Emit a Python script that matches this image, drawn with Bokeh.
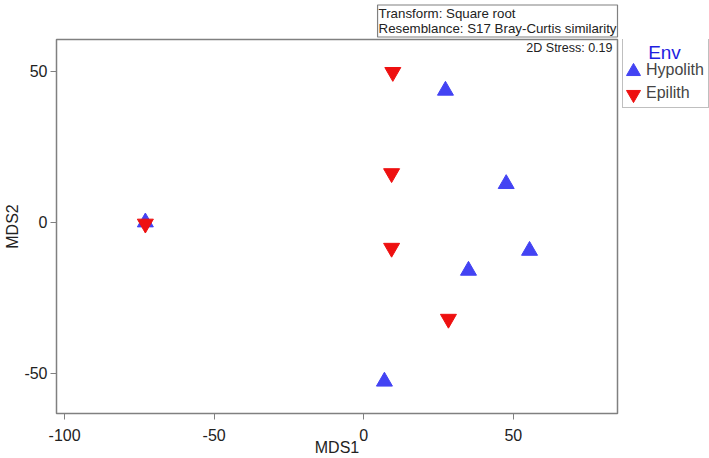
from bokeh.plotting import figure
from bokeh.layouts import row
from bokeh.models import (Range1d, FixedTicker, Label, Legend, LegendItem, Title,
                          CustomJSTickFormatter, ColumnDataSource)
from bokeh.embed import file_html
from bokeh.resources import INLINE

# Data (MDS coordinates)
hyp_x = [-73.0, 27.3, 47.6, 55.4, 35.0, 6.9]
hyp_y = [0.0, 43.6, 12.7, -9.4, -16.0, -52.7]
epi_x = [-73.0, 9.7, 9.3, 9.3, 28.3]
epi_y = [-0.5, 49.7, 16.2, -8.5, -32.0]
x_ticks = [-100, -50, 0, 50]
y_ticks = [-50, 0, 50]
legend_title = "Env"
group_names = ["Hypolith", "Epilith"]
info_lines = ["Transform: Square root", "Resemblance: S17 Bray-Curtis similarity"]
stress_text = "2D Stress: 0.19"

FONT = "Liberation Sans"
BLUE = "#4343F3"
RED = "#EE1010"
GRAY = "#808080"
TXT = "#222222"

X0, X1 = -102.7, 84.8
Y0, Y1 = -63.3, 60.5
FL, FR, FT, FB = 56, 617, 39, 413
MAIN_W = FR + 2
LEG_W = 709 - MAIN_W
sx = (FR - FL) / (X1 - X0)
sy = (FB - FT) / (Y1 - Y0)

def dx(px):
    return X0 + (px - FL) / sx

def dy(py):
    return Y1 - (py - FT) / sy

p = figure(width=MAIN_W, height=458, output_backend="svg", toolbar_location=None,
           x_range=Range1d(X0, X1), y_range=Range1d(Y0, Y1),
           min_border_left=FL, min_border_right=MAIN_W - FR,
           min_border_top=FT, min_border_bottom=458 - FB)
p.xgrid.visible = False
p.ygrid.visible = False
p.outline_line_color = GRAY
p.outline_line_width = 1.5
p.background_fill_color = "white"

fmt = CustomJSTickFormatter(code="return String(tick);")
for ax, ticks, label in ((p.xaxis[0], x_ticks, "MDS1"), (p.yaxis[0], y_ticks, "MDS2")):
    ax.ticker = FixedTicker(ticks=ticks)
    ax.formatter = fmt
    ax.minor_tick_line_color = None
    ax.axis_line_color = None
    ax.major_tick_line_color = GRAY
    ax.major_tick_in = 0
    ax.major_tick_out = 6
    ax.major_label_text_font = FONT
    ax.major_label_text_font_size = "16px"
    ax.major_label_text_color = TXT
    ax.axis_label = label
    ax.axis_label_text_font = FONT
    ax.axis_label_text_font_size = "16px"
    ax.axis_label_text_font_style = "normal"
    ax.axis_label_text_color = TXT
p.xaxis.major_label_standoff = 9
p.xaxis.axis_label_standoff = -5
p.yaxis.major_label_standoff = 3
p.yaxis.axis_label_standoff = 0

r_h = p.scatter(hyp_x, hyp_y, marker="triangle", size=16, fill_color=BLUE, line_color=BLUE)
r_e = p.scatter(epi_x, epi_y, marker="inverted_triangle", size=16, fill_color=RED, line_color=RED)

info = Title(text="\n".join(info_lines), align="right",
             text_font=FONT, text_font_size="13.3px", text_color=TXT,
             text_font_style="normal", padding=1, standoff=5,
             border_line_color=GRAY, border_line_width=1.2,
             background_fill_color="white")
p.add_layout(info, "above")

stress = Label(x=dx(612), y=dy(47), text=stress_text,
               text_font=FONT, text_font_size="12.5px", text_color=TXT,
               text_align="right", text_baseline="middle")
p.add_layout(stress)

# Legend panel (separate small figure at the right; its frame aligns with the main frame)
lf = figure(width=LEG_W, height=458, output_backend="svg", toolbar_location=None,
            x_range=Range1d(0, 1), y_range=Range1d(0, 1), min_border=0)
lf.axis.visible = False
lf.grid.visible = False
lf.outline_line_color = None

def lx(px):
    return (px - MAIN_W) / LEG_W

def ly(py):
    return (FB - py) / (FB - FT)

# legend key symbols, drawn at the legend rows
key_h = ColumnDataSource(data=dict(x=[lx(633)], y=[ly(71)]))
key_e = ColumnDataSource(data=dict(x=[lx(633)], y=[ly(94)]))
lh = lf.scatter("x", "y", source=key_h, marker="triangle", size=14, fill_color=BLUE, line_color=BLUE)
le = lf.scatter("x", "y", source=key_e, marker="inverted_triangle", size=14, fill_color=RED, line_color=RED)

LEG_L, LEG_T, LEG_B = 622, 38, 108
legend = Legend(items=[LegendItem(label=group_names[0], renderers=[lh]),
                       LegendItem(label=group_names[1], renderers=[le])],
                location=(LEG_L - MAIN_W, FB - LEG_B))
legend.title = "\u00a0"
legend.title_text_font = FONT
legend.title_text_font_size = "19px"
legend.title_standoff = 1
legend.label_text_font = FONT
legend.label_text_font_size = "16px"
legend.label_standoff = 4
legend.glyph_width = 15
legend.glyph_height = 20
legend.label_height = 20
legend.spacing = 3
legend.padding = 4
legend.border_line_color = GRAY
legend.border_line_width = 1.5
legend.background_fill_alpha = 0
legend.margin = 0
lf.add_layout(legend, "center")

env = Label(x=lx(664), y=ly(52), text=legend_title,
            text_font=FONT, text_font_size="19px", text_color="#1F1FE0",
            text_align="center", text_baseline="middle")
lf.add_layout(env)

layout = row(p, lf, spacing=0)
open("out.html", "w").write(file_html(layout, INLINE))
